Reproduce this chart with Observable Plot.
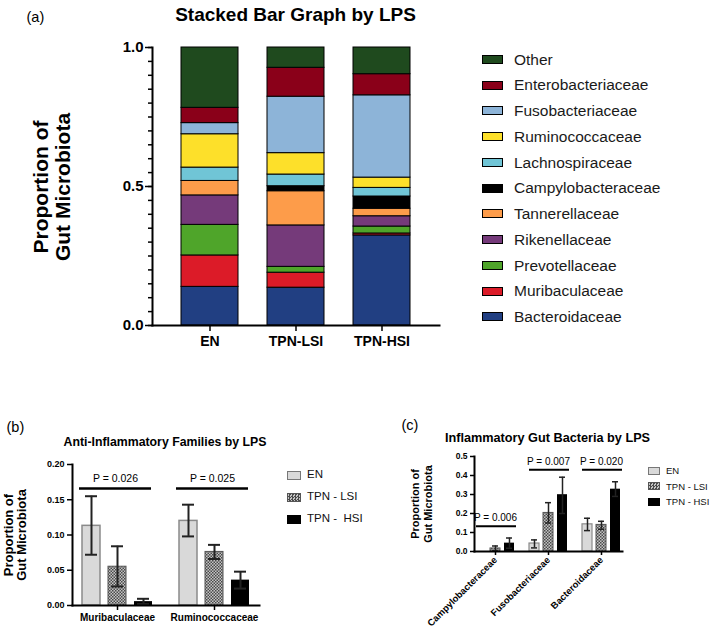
<!DOCTYPE html>
<html><head><meta charset="utf-8">
<script src="https://cdn.jsdelivr.net/npm/d3@7"></script>
<script src="https://cdn.jsdelivr.net/npm/@observablehq/plot@0.6"></script>
<style>
body{margin:0;background:#fff;}
#root{position:relative;width:712px;height:630px;overflow:hidden;background:#fff;font-family:"Liberation Sans",Arial,sans-serif;color:#000;}
.abs{position:absolute;white-space:nowrap;line-height:1;}
.panel{position:absolute;}
.panel svg{display:block;overflow:visible;background:none;}
.ylab{position:absolute;transform:translate(-50%,-50%) rotate(-90deg);text-align:center;font-weight:bold;white-space:nowrap;}
.legend{position:absolute;}
.legend .row{display:flex;align-items:center;white-space:pre;line-height:1;}
.legend .sw{box-sizing:border-box;border:1px solid #000;flex:none;}
</style></head><body><div id="root"></div>
<script>
const FONT = '"Liberation Sans", Arial, sans-serif';

// ---------- Panel (a) data ----------
const groupsA = ["EN", "TPN-LSI", "TPN-HSI"];
const familiesA = ["Bacteroidaceae","Muribaculaceae","Prevotellaceae","Rikenellaceae","Tannerellaceae","Campylobacteraceae","Lachnospiraceae","Ruminococcaceae","Fusobacteriaceae","Enterobacteriaceae","Other"];
const colorsA = ["#213f82","#dc1b28","#4fa52a","#753a7a","#fd9c4a","#000000","#70c5d6","#fde02a","#8db4d8","#8a0019","#1f4a1e"];
const valuesEN  = [0.139,0.113,0.110,0.106,0.052,0.000,0.048,0.120,0.040,0.055,0.217];
const valuesLSI = [0.136,0.054,0.021,0.149,0.123,0.018,0.042,0.077,0.203,0.104,0.073];
const valuesHSI = [0.324,0.007,0.025,0.037,0.027,0.044,0.031,0.037,0.296,0.076,0.096];
const yTicksA = [0, 0.5, 1];
const yMinorTicksA = [0,0.05,0.1,0.15,0.2,0.25,0.3,0.35,0.4,0.45,0.5,0.55,0.6,0.65,0.7,0.75,0.8,0.85,0.9,0.95,1];

// ---------- Panel (b) data ----------
const familiesB = ["Muribaculaceae", "Ruminococcaceae"];
const groupKeys = ["EN", "LSI", "HSI"];
const legendLabelsB = ["EN", "TPN - LSI", "TPN -  HSI"];
const meanB_EN  = [0.113, 0.120], lowB_EN  = [0.072, 0.098], highB_EN  = [0.155, 0.143];
const meanB_LSI = [0.055, 0.076], lowB_LSI = [0.027, 0.066], highB_LSI = [0.084, 0.086];
const meanB_HSI = [0.0055, 0.036], lowB_HSI = [0.002, 0.024], highB_HSI = [0.0095, 0.048];
const pLabelsB = ["P = 0.026", "P = 0.025"];
const pLevelsB = [0.166, 0.166];
const yTicksB = [0, 0.05, 0.10, 0.15, 0.20];

// ---------- Panel (c) data ----------
const familiesC = ["Campylobacteraceae", "Fusobacteriaceae", "Bacteroidaceae"];
const legendLabelsC = ["EN", "TPN - LSI", "TPN - HSI"];
const meanC_EN  = [0, 0.042, 0.143], lowC_EN  = [0, 0.019, 0.110], highC_EN  = [0, 0.061, 0.175];
const meanC_LSI = [0.016, 0.203, 0.140], lowC_LSI = [0.003, 0.150, 0.117], highC_LSI = [0.029, 0.257, 0.159];
const meanC_HSI = [0.044, 0.299, 0.328], lowC_HSI = [0.017, 0.200, 0.290], highC_HSI = [0.071, 0.391, 0.367];
const pLabelsC = ["P = 0.006", "P = 0.007", "P = 0.020"];
const pLevelsC = [0.133, 0.43, 0.43];
const yTicksC = [0, 0.1, 0.2, 0.3, 0.4, 0.5];

// ---------- helpers ----------
const root = document.getElementById("root");
function addText(txt, x, baseline, size, weight = "normal", anchor = "start") {
  const d = document.createElement("div");
  d.className = "abs";
  d.textContent = txt;
  d.style.left = x + "px";
  d.style.top = (baseline - 0.8465 * size) + "px";
  d.style.fontSize = size + "px";
  d.style.fontWeight = weight;
  if (anchor === "middle") d.style.transform = "translateX(-50%)";
  root.appendChild(d);
}
function addYLabel(lines, cx, cy, size, lh) {
  const d = document.createElement("div");
  d.className = "ylab";
  d.innerHTML = lines.join("<br>");
  d.style.left = cx + "px"; d.style.top = cy + "px";
  d.style.fontSize = size + "px"; d.style.lineHeight = lh + "px";
  root.appendChild(d);
}
function addPanel(svg, left, top) {
  const d = document.createElement("div");
  d.className = "panel";
  d.style.left = left + "px"; d.style.top = top + "px";
  d.appendChild(svg);
  root.appendChild(d);
}
function addLegend(items, left, top, rowH, swW, swH, gap, size, color) {
  const d = document.createElement("div");
  d.className = "legend";
  d.style.left = left + "px"; d.style.top = top + "px";
  items.forEach(it => {
    const r = document.createElement("div");
    r.className = "row"; r.style.height = rowH + "px";
    const s = document.createElement("div");
    s.className = "sw";
    s.style.width = swW + "px"; s.style.height = swH + "px";
    s.style.background = it.bg;
    if (it.border) s.style.borderColor = it.border;
    const t = document.createElement("span");
    t.textContent = it.label;
    t.style.marginLeft = gap + "px"; t.style.fontSize = size + "px"; t.style.color = color;
    r.appendChild(s); r.appendChild(t);
    d.appendChild(r);
  });
  root.appendChild(d);
}
const hatchCSS = "repeating-conic-gradient(#4a4a4a 0 25%, #c4c4c4 0 50%) 0 0/3px 3px";
function hatchDefs(id) {
  return `<defs><pattern id="${id}" width="3" height="3" patternUnits="userSpaceOnUse">
    <rect width="3" height="3" fill="#c4c4c4"/><rect width="1.5" height="1.5" fill="#4a4a4a"/>
    <rect x="1.5" y="1.5" width="1.5" height="1.5" fill="#4a4a4a"/></pattern></defs>`;
}

// ---------- Panel (a) ----------
const rowsA = [];
[valuesEN, valuesLSI, valuesHSI].forEach((vals, gi) =>
  familiesA.forEach((f, fi) => { if (vals[fi] > 0) rowsA.push({group: groupsA[gi], family: f, value: vals[fi]}); }));

const chartA = Plot.plot({
  width: 712, height: 360,
  marginTop: 47, marginBottom: 35, marginLeft: 152, marginRight: 273,
  style: {background: "none", fontFamily: FONT, color: "#000"},
  x: {domain: groupsA, padding: 0.337, axis: null},
  y: {domain: [0, 1], axis: null},
  color: {domain: familiesA, range: colorsA},
  marks: [
    Plot.barY(rowsA, {x: "group", y: "value", fill: "family", order: familiesA, stroke: "#000", strokeWidth: 1}),
    Plot.axisY({ticks: yMinorTicksA, tickSize: 4, tickFormat: () => "", strokeWidth: 1.5, label: null}),
    Plot.axisY({ticks: yTicksA, tickSize: 7, tickPadding: 2, tickFormat: d3.format(".1f"), fontSize: 15, fontWeight: "bold", strokeWidth: 1.5, label: null}),
    Plot.axisX({tickSize: 6, tickPadding: 5, fontSize: 14, fontWeight: "bold", strokeWidth: 1.5, label: null}),
    Plot.frame({anchor: "left", strokeWidth: 2}),
    Plot.frame({anchor: "bottom", strokeWidth: 2})
  ]
});
addPanel(chartA, 0, 0);

// ---------- Panel (b) ----------
const rowsB = [];
const setsB = [[meanB_EN, lowB_EN, highB_EN], [meanB_LSI, lowB_LSI, highB_LSI], [meanB_HSI, lowB_HSI, highB_HSI]];
familiesB.forEach((f, fi) => groupKeys.forEach((g, gi) =>
  rowsB.push({family: f, group: g, mean: setsB[gi][0][fi], low: setsB[gi][1][fi], high: setsB[gi][2][fi]})));
const sigB = familiesB.map((f, i) => ({family: f, label: pLabelsB[i], level: pLevelsB[i]}));

const chartB = Plot.plot({
  width: 356, height: 250,
  marginTop: 84, marginBottom: 25, marginLeft: 71, marginRight: 97,
  style: {background: "none", fontFamily: FONT, color: "#000"},
  fx: {domain: familiesB, paddingInner: 0.077, paddingOuter: 0, label: null, axis: null},
  x: {domain: groupKeys, paddingInner: 0.32, paddingOuter: 0.36, axis: null},
  y: {domain: [0, 0.2], axis: null},
  marks: [
    Plot.barY(rowsB.filter(d => d.group === "EN"), {fx: "family", x: "group", y: "mean", fill: "#d9d9d9", stroke: "#8a8a8a", strokeWidth: 1.5}),
    Plot.barY(rowsB.filter(d => d.group === "LSI"), {fx: "family", x: "group", y: "mean", fill: "url(#hatchB)", stroke: "#555", strokeWidth: 1}),
    Plot.barY(rowsB.filter(d => d.group === "HSI"), {fx: "family", x: "group", y: "mean", fill: "#000"}),
    Plot.ruleX(rowsB, {fx: "family", x: "group", y1: "low", y2: "high", stroke: "#222", strokeWidth: 2}),
    Plot.tickY(rowsB, {fx: "family", x: "group", y: "high", stroke: "#222", strokeWidth: 2, insetLeft: 3, insetRight: 3}),
    Plot.tickY(rowsB, {fx: "family", x: "group", y: "low", stroke: "#222", strokeWidth: 2, insetLeft: 3, insetRight: 3}),
    Plot.ruleY(sigB, {fx: "family", y: "level", stroke: "#000", strokeWidth: 2.5, insetLeft: 7, insetRight: 11}),
    Plot.text(sigB, {fx: "family", y: "level", text: "label", dy: -10, dx: -2, fontSize: 10.5}),
    Plot.axisY({ticks: yTicksB, tickSize: 5, tickPadding: 3, tickFormat: d3.format(".2f"), fontSize: 9, fontWeight: "bold", strokeWidth: 1.5, label: null}),
    Plot.axisFx({anchor: "bottom", tickSize: 5, tickPadding: 3, fontSize: 10, fontWeight: "bold", strokeWidth: 1.5, label: null}),
    Plot.frame({anchor: "left", facet: "super", strokeWidth: 2}),
    Plot.frame({anchor: "bottom", facet: "super", strokeWidth: 2})
  ]
});
chartB.insertAdjacentHTML("afterbegin", hatchDefs("hatchB"));
addPanel(chartB, 0, 380);

// ---------- Panel (c) ----------
const rowsC = [];
const setsC = [[meanC_EN, lowC_EN, highC_EN], [meanC_LSI, lowC_LSI, highC_LSI], [meanC_HSI, lowC_HSI, highC_HSI]];
familiesC.forEach((f, fi) => groupKeys.forEach((g, gi) => {
  if (setsC[gi][0][fi] > 0) rowsC.push({family: f, group: g, mean: setsC[gi][0][fi], low: setsC[gi][1][fi], high: setsC[gi][2][fi]});
}));
const sigC = familiesC.map((f, i) => ({family: f, label: pLabelsC[i], level: pLevelsC[i]}));

const chartC = Plot.plot({
  width: 356, height: 250,
  marginTop: 76, marginBottom: 79, marginLeft: 118, marginRight: 89,
  style: {background: "none", fontFamily: FONT, color: "#000"},
  fx: {domain: familiesC, paddingInner: 0.2, paddingOuter: 0, label: null, axis: null},
  x: {domain: groupKeys, paddingInner: 0.3, paddingOuter: 0.14, axis: null},
  y: {domain: [0, 0.5], axis: null},
  marks: [
    Plot.barY(rowsC.filter(d => d.group === "EN"), {fx: "family", x: "group", y: "mean", fill: "#d9d9d9", stroke: "#8a8a8a", strokeWidth: 1.2}),
    Plot.barY(rowsC.filter(d => d.group === "LSI"), {fx: "family", x: "group", y: "mean", fill: "url(#hatchC)", stroke: "#555", strokeWidth: 1}),
    Plot.barY(rowsC.filter(d => d.group === "HSI"), {fx: "family", x: "group", y: "mean", fill: "#000"}),
    Plot.ruleX(rowsC, {fx: "family", x: "group", y1: "low", y2: "high", stroke: "#222", strokeWidth: 1.5}),
    Plot.tickY(rowsC, {fx: "family", x: "group", y: "high", stroke: "#222", strokeWidth: 1.5, insetLeft: 2, insetRight: 2}),
    Plot.tickY(rowsC, {fx: "family", x: "group", y: "low", stroke: "#222", strokeWidth: 1.5, insetLeft: 2, insetRight: 2}),
    Plot.ruleY(sigC, {fx: "family", y: "level", stroke: "#000", strokeWidth: 2, insetLeft: 2, insetRight: 0}),
    Plot.text(sigC, {fx: "family", y: "level", text: "label", dy: -8, fontSize: 10}),
    Plot.axisY({ticks: yTicksC, tickSize: 4, tickPadding: 3, tickFormat: d3.format(".1f"), fontSize: 8.5, fontWeight: "bold", strokeWidth: 1.5, label: null}),
    Plot.axisFx({anchor: "bottom", tickSize: 4, tickPadding: 3, tickRotate: -45, fontSize: 9.4, fontWeight: "bold", strokeWidth: 1.5, label: null}),
    Plot.frame({anchor: "left", facet: "super", strokeWidth: 2}),
    Plot.frame({anchor: "bottom", facet: "super", strokeWidth: 2})
  ]
});
chartC.insertAdjacentHTML("afterbegin", hatchDefs("hatchC"));
addPanel(chartC, 356, 380);

// ---------- titles, labels, legends ----------
addText("(a)", 26.5, 22, 14.5);
addText("Stacked Bar Graph by LPS", 295.5, 20.7, 19, "bold", "middle");
addYLabel(["Proportion of", "Gut Microbiota"], 52, 187, 21, 22);
addLegend(familiesA.map((f, i) => ({label: f, bg: colorsA[i]})).reverse(), 482, 46.4, 25.75, 21, 9, 11, 15.5, "#1a1a1a");

addText("(b)", 6.5, 432, 14.5);
addText("Anti-Inflammatory Families by LPS", 165, 446.7, 12.3, "bold", "middle");
addYLabel(["Proportion of", "Gut Microbiota"], 14.6, 535, 13, 13);
addLegend([
  {label: legendLabelsB[0], bg: "#d9d9d9", border: "#777"},
  {label: legendLabelsB[1], bg: hatchCSS, border: "#555"},
  {label: legendLabelsB[2], bg: "#000"}
], 287, 464, 22, 14, 9, 6, 11.5, "#111");

addText("(c)", 401.5, 430.5, 14.5);
addText("Inflammatory Gut Bacteria by LPS", 547.5, 442.3, 12.7, "bold", "middle");
addYLabel(["Proportion of", "Gut Microbiota"], 422, 503.5, 11, 13);
addLegend([
  {label: legendLabelsC[0], bg: "#d9d9d9", border: "#777"},
  {label: legendLabelsC[1], bg: hatchCSS, border: "#555"},
  {label: legendLabelsC[2], bg: "#000"}
], 648, 463.4, 15.3, 12, 8, 6, 9.5, "#111");
</script></body></html>
